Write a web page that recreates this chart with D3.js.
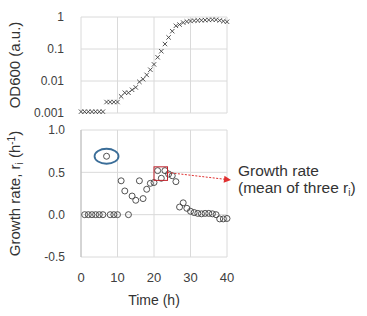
<!DOCTYPE html>
<html lang="en">
<head>
<meta charset="UTF-8">
<title>OD600 and growth rate</title>
<script src="https://d3js.org/d3.v7.min.js"></script>
<style>
  body { margin: 0; background: #fff; }
  svg { display: block; font-family: "Liberation Sans", Arial, sans-serif; }
  .grid line { stroke: #dadada; stroke-width: 1; }
  .tick-label { fill: #404040; font-size: 12px; }
  .title { fill: #333; }
</style>
</head>
<body>
<svg width="367" height="316"></svg>
<script>
  // OD600 measured every hour (t = 0..40)
  const odTime = [0,1,2,3,4,5,6,7,8,9,10,11,12,13,14,15,16,17,18,19,20,
                  21,22,23,24,25,26,27,28,29,30,31,32,33,34,35,36,37,38,39,40];
  const odValues = [0.0011,0.0011,0.0011,0.0011,0.0011,0.0011,0.0011,
                    0.0022,0.0022,0.0022,0.0022,
                    0.0033,0.0043,0.0043,0.0053,0.0063,0.0094,0.0114,0.0155,0.0225,0.033,
                    0.055,0.085,0.143,0.23,0.36,0.53,0.58,0.67,0.72,0.75,
                    0.77,0.78,0.79,0.80,0.81,0.82,0.82,0.78,0.74,0.71];

  // growth rate r_i (t = 1..40)
  const rateTime = [1,2,3,4,5,6,7,8,9,10,11,12,13,14,15,16,17,18,19,20,
                    21,22,23,24,25,26,27,28,29,30,31,32,33,34,35,36,37,38,39,40];
  const rateValues = [0,0,0,0,0,0,0.69,0,0,0,
                      0.40,0.28,0.0,0.22,0.17,0.40,0.19,0.30,0.37,0.38,
                      0.52,0.43,0.52,0.48,0.46,0.39,0.09,0.14,0.075,0.04,
                      0.025,0.015,0.01,0.015,0.015,0.01,0.0,-0.05,-0.05,-0.045];

  const timeTicks = [0, 10, 20, 30, 40];
  const odTicks = [0.001, 0.01, 0.1, 1];
  const odTickLabels = ["0.001", "0.01", "0.1", "1"];
  const rateTicks = [-0.5, 0, 0.5, 1.0];
  const rateTickLabels = ["-0.5", "0.0", "0.5", "1.0"];

  // annotations (data coordinates)
  const outlier = { t: 7, r: 0.69 };
  const meanBox = { t0: 20, t1: 23.7, r0: 0.405, r1: 0.565 };

  const svg = d3.select("svg");

  const x = d3.scaleLinear().domain([0, 40]).range([81, 227]);
  const yOd = d3.scaleLog().domain([0.001, 1]).range([113, 17]);
  const yRate = d3.scaleLinear().domain([-0.5, 1]).range([257, 130]);

  // ---- top panel: OD600 ----
  const odPanel = svg.append("g");
  const gTop = odPanel.append("g").attr("class", "grid");
  gTop.selectAll("line.h").data(odTicks).join("line")
    .attr("x1", x(0)).attr("x2", x(40))
    .attr("y1", d => yOd(d)).attr("y2", d => yOd(d));
  gTop.selectAll("line.v").data(timeTicks).join("line")
    .attr("x1", d => x(d)).attr("x2", d => x(d))
    .attr("y1", yOd(1)).attr("y2", yOd(0.001));

  odPanel.selectAll("text.tl").data(odTicks).join("text")
    .attr("class", "tick-label")
    .attr("x", 64).attr("y", d => yOd(d))
    .attr("dy", "0.35em").attr("text-anchor", "end")
    .text((d, i) => odTickLabels[i]);

  const cross = 2.2;
  odPanel.selectAll("path.pt").data(odTime).join("path")
    .attr("d", (d, i) => {
      const cx = x(d), cy = yOd(odValues[i]);
      return `M${cx - cross},${cy - cross}L${cx + cross},${cy + cross}M${cx - cross},${cy + cross}L${cx + cross},${cy - cross}`;
    })
    .attr("stroke", "#404040").attr("stroke-width", 0.9).attr("fill", "none");

  odPanel.append("text").attr("class", "title")
    .attr("transform", `translate(20,${(yOd(1) + yOd(0.001)) / 2}) rotate(-90)`)
    .attr("text-anchor", "middle").style("font-size", "15px")
    .text("OD600 (a.u.)");

  // ---- bottom panel: growth rate ----
  const ratePanel = svg.append("g");
  const gBot = ratePanel.append("g").attr("class", "grid");
  gBot.selectAll("line.h").data(rateTicks).join("line")
    .attr("x1", x(0)).attr("x2", x(40))
    .attr("y1", d => yRate(d)).attr("y2", d => yRate(d));
  gBot.selectAll("line.v").data(timeTicks).join("line")
    .attr("x1", d => x(d)).attr("x2", d => x(d))
    .attr("y1", yRate(1)).attr("y2", yRate(-0.5));
  ratePanel.append("line")
    .attr("x1", x(0)).attr("x2", x(0))
    .attr("y1", yRate(1)).attr("y2", yRate(-0.5))
    .attr("stroke", "#bcbcbc");

  ratePanel.selectAll("text.yl").data(rateTicks).join("text")
    .attr("class", "tick-label")
    .attr("x", 65).attr("y", d => yRate(d))
    .attr("dy", "0.35em").attr("text-anchor", "end")
    .text((d, i) => rateTickLabels[i]);

  ratePanel.selectAll("text.xl").data(timeTicks).join("text")
    .attr("class", "tick-label")
    .attr("x", d => x(d)).attr("y", 282)
    .attr("text-anchor", "middle").style("font-size", "13px")
    .text(d => d);

  ratePanel.selectAll("circle.pt").data(rateTime).join("circle")
    .attr("cx", d => x(d)).attr("cy", (d, i) => yRate(rateValues[i]))
    .attr("r", 3).attr("fill", "none")
    .attr("stroke", "#404040").attr("stroke-width", 0.9);

  const rt = ratePanel.append("text").attr("class", "title")
    .attr("transform", `translate(20,${(yRate(1) + yRate(-0.5)) / 2}) rotate(-90)`)
    .attr("text-anchor", "middle").style("font-size", "15px");
  rt.append("tspan").text("Growth rate, r");
  rt.append("tspan").attr("dy", 3).style("font-size", "10px").text("i");
  rt.append("tspan").attr("dy", -3).text(" (h");
  rt.append("tspan").attr("dy", -5).style("font-size", "10px").text("-1");
  rt.append("tspan").attr("dy", 5).text(")");

  ratePanel.append("text").attr("class", "title")
    .attr("x", (x(0) + x(40)) / 2).attr("y", 305)
    .attr("text-anchor", "middle").style("font-size", "14px")
    .text("Time (h)");

  // ---- annotations ----
  ratePanel.append("ellipse")
    .attr("cx", x(outlier.t)).attr("cy", yRate(outlier.r))
    .attr("rx", 12).attr("ry", 7.5)
    .attr("fill", "none").attr("stroke", "#3a6d98").attr("stroke-width", 1.8);

  ratePanel.append("rect")
    .attr("x", x(meanBox.t0)).attr("y", yRate(meanBox.r1))
    .attr("width", x(meanBox.t1) - x(meanBox.t0))
    .attr("height", yRate(meanBox.r0) - yRate(meanBox.r1))
    .attr("fill", "none").attr("stroke", "#c0202a").attr("stroke-width", 1);

  const ax0 = x(meanBox.t1), ay0 = 172.5, ax1 = 231, ay1 = 180;
  const ang = Math.atan2(ay1 - ay0, ax1 - ax0);
  ratePanel.append("line")
    .attr("x1", ax0).attr("y1", ay0)
    .attr("x2", ax1 - 6 * Math.cos(ang)).attr("y2", ay1 - 6 * Math.sin(ang))
    .attr("stroke", "#e03030").attr("stroke-width", 1)
    .attr("stroke-dasharray", "2,1.5");
  const hx = ax1 - 7 * Math.cos(ang), hy = ay1 - 7 * Math.sin(ang);
  const px = -Math.sin(ang) * 3.5, py = Math.cos(ang) * 3.5;
  ratePanel.append("path")
    .attr("d", `M${ax1},${ay1}L${hx + px},${hy + py}L${hx - px},${hy - py}Z`)
    .attr("fill", "#e03030");

  const note = svg.append("g").attr("class", "title").style("font-size", "15.5px");
  note.append("text").attr("x", 238).attr("y", 176).text("Growth rate");
  const n2 = note.append("text").attr("x", 238).attr("y", 193);
  n2.append("tspan").text("(mean of three r");
  n2.append("tspan").attr("dy", 3).style("font-size", "10px").text("i");
  n2.append("tspan").attr("dy", -3).text(")");
</script>
</body>
</html>
